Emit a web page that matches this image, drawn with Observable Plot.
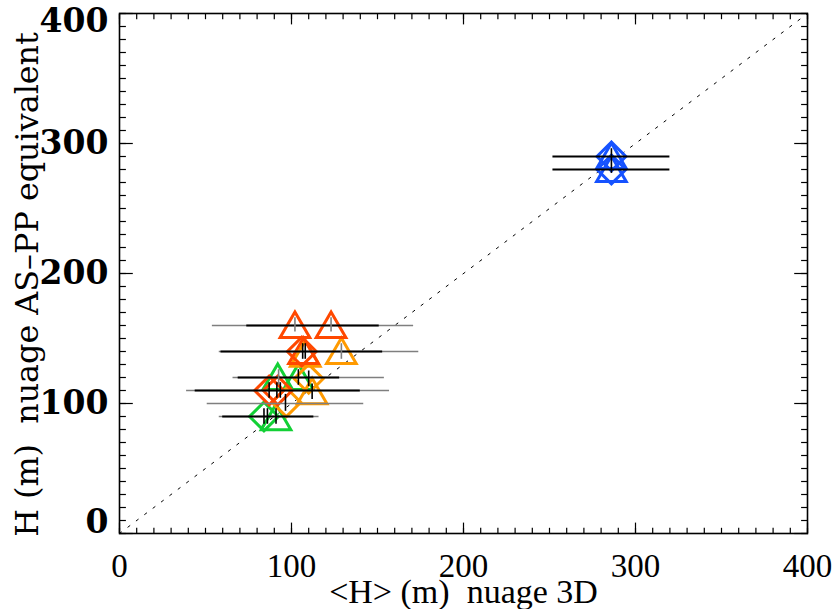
<!DOCTYPE html>
<html><head><meta charset="utf-8">
<script src="https://cdn.jsdelivr.net/npm/d3@7"></script>
<script src="https://cdn.jsdelivr.net/npm/@observablehq/plot@0.6"></script>
<style>
body{margin:0;background:#fff;}
svg text{white-space:pre;}
</style></head><body><div id="chart"></div>
<script>
// ---- labels & ticks ----
const xLabel = "<H> (m)  nuage 3D";
const yLabel = "H (m)  nuage AS\u2013PP equivalent";
const majorTicks = [0, 100, 200, 300, 400];
const midTicks = [100, 200, 300];
const topTick = [400];
const bottomTick = [0];
const minorTicks = d3.range(0, 401, 10);
const diag = [0, 400];

// ---- symbols (drawn in this order) ----
const symX     = [92, 104, 84, 91,   108, 129, 110, 112, 97,   102, 123, 107, 106, 87, 92,   286, 286, 286, 286];
const symY     = [120, 120, 90, 89,  138, 140, 119, 109, 101,  160, 160, 140, 140, 110, 110, 290, 290, 280, 280];
const symShape = ["triangle","triangle","diamond2","triangle",
                  "triangle","triangle","diamond2","triangle","diamond2",
                  "triangle","triangle","triangle","diamond2","diamond2","diamond2",
                  "triangle","diamond2","triangle","diamond2"];
const symColor = ["#12d035","#12d035","#12d035","#12d035",
                  "#ff9a00","#ff9a00","#ff9a00","#ff9a00","#ff9a00",
                  "#ff4800","#ff4800","#ff4800","#ff4800","#ff4800","#ff4800",
                  "#1652ff","#1652ff","#1652ff","#1652ff"];

// ---- horizontal error bars ----
const barY    = [290, 280, 160, 140, 120, 110, 100, 90];
const grayLo  = [null, null, 54, 58, 66, 39, 51, 58];
const grayHi  = [null, null, 171, 174, 154, 157, 142, 116];
const blackLo = [252, 252, 74, 59, 69, 44, null, 60];
const blackHi = [320, 320, 151, 153, 128, 140, null, 113];

// ---- vertical error bars ----
const vbX    = [286, 102, 123, 106.5, 108, 129, 92.5, 104, 110, 87, 91.5, 93.5, 112, 96.5, 84, 86, 91];
const vbLo   = [277, 155, 155, 134, 134, 134, 114, 114, 113, 104, 104, 104, 103, 94, 84, 84, 84];
const vbHi   = [296, 166, 166, 146, 146, 146, 126, 126, 125, 116, 116, 116, 115, 107, 96, 96, 96];
const vbGray = [false, true, true, false, false, true, true, false, false, false, false, false, false, false, false, false, false];

const symIdx = d3.range(symX.length);
const barIdx = d3.range(barY.length);
const vbIdx = d3.range(vbX.length);

const tickOpts = {tickFormat: () => "", label: null, strokeWidth: 1.2};

const chart = Plot.plot({
  width: 833, height: 609,
  marginLeft: 119, marginRight: 26, marginTop: 13, marginBottom: 76,
  x: {domain: [0, 400]},
  y: {domain: [0, 400]},
  style: {background: "white", color: "black", overflow: "visible"},
  marks: [
    // diagonal
    Plot.line(diag, {x: d => d, y: d => d, stroke: "black", strokeWidth: 1, strokeDasharray: "2.5,8"}),
    // symbols
    ...symIdx.map(i => Plot.dot([i], {
      x: j => symX[j], y: j => symY[j],
      symbol: symShape[i],
      r: symShape[i] === "triangle" ? 11 : 13,
      stroke: symColor[i], strokeWidth: 3, fill: "none",
      dy: symShape[i] === "triangle" ? 3.5 : 0
    })),
    // horizontal bars
    Plot.ruleY(barIdx.filter(i => grayLo[i] != null), {y: i => barY[i], x1: i => grayLo[i], x2: i => grayHi[i], stroke: "#7f7f7f", strokeWidth: 1.6}),
    Plot.ruleY(barIdx.filter(i => blackLo[i] != null), {y: i => barY[i], x1: i => blackLo[i], x2: i => blackHi[i], stroke: "black", strokeWidth: 2.2}),
    // vertical bars
    Plot.ruleX(vbIdx, {x: i => vbX[i], y1: i => vbLo[i], y2: i => vbHi[i], stroke: i => vbGray[i] ? "#7f7f7f" : "black", strokeWidth: 1.6}),
    // frame
    Plot.frame({stroke: "black", strokeWidth: 1.6}),
    // inward ticks on all sides
    Plot.axisX(minorTicks, {anchor: "bottom", tickSize: -5.2, ...tickOpts}),
    Plot.axisX(minorTicks, {anchor: "top", tickSize: -5.2, ...tickOpts}),
    Plot.axisX(majorTicks, {anchor: "bottom", tickSize: -10.4, ...tickOpts}),
    Plot.axisX(majorTicks, {anchor: "top", tickSize: -10.4, ...tickOpts}),
    Plot.axisY(minorTicks, {anchor: "left", tickSize: -6.9, ...tickOpts}),
    Plot.axisY(minorTicks, {anchor: "right", tickSize: -6.9, ...tickOpts}),
    Plot.axisY(majorTicks, {anchor: "left", tickSize: -13.8, ...tickOpts}),
    Plot.axisY(majorTicks, {anchor: "right", tickSize: -13.8, ...tickOpts}),
    // tick labels
    Plot.axisX(majorTicks, {anchor: "bottom", tickSize: 0, tickPadding: 20, label: null,
      fontSize: 33, fontFamily: "Liberation Serif"}),
    Plot.axisY(midTicks, {anchor: "left", tickSize: 0, tickPadding: 11, label: null,
      fontSize: 33, fontFamily: "DejaVu Serif", fontWeight: "bold"}),
    Plot.axisY(topTick, {anchor: "left", tickSize: 0, tickPadding: 11, label: null, dy: 7.5,
      fontSize: 33, fontFamily: "DejaVu Serif", fontWeight: "bold"}),
    Plot.axisY(bottomTick, {anchor: "left", tickSize: 0, tickPadding: 11, label: null, dy: -11,
      fontSize: 33, fontFamily: "DejaVu Serif", fontWeight: "bold"}),
    // axis titles
    Plot.text([xLabel], {frameAnchor: "bottom", text: d => d, dy: 59, lineAnchor: "middle",
      textAnchor: "middle", fontSize: 34, fontFamily: "Liberation Serif"}),
    Plot.text([yLabel], {frameAnchor: "left", text: d => d, rotate: -90, dx: -92, dy: 11,
      textAnchor: "middle", lineAnchor: "middle",
      fontSize: 31.8, fontFamily: "DejaVu Serif"})
  ]
});
document.getElementById("chart").appendChild(chart);
</script>
</body></html>
